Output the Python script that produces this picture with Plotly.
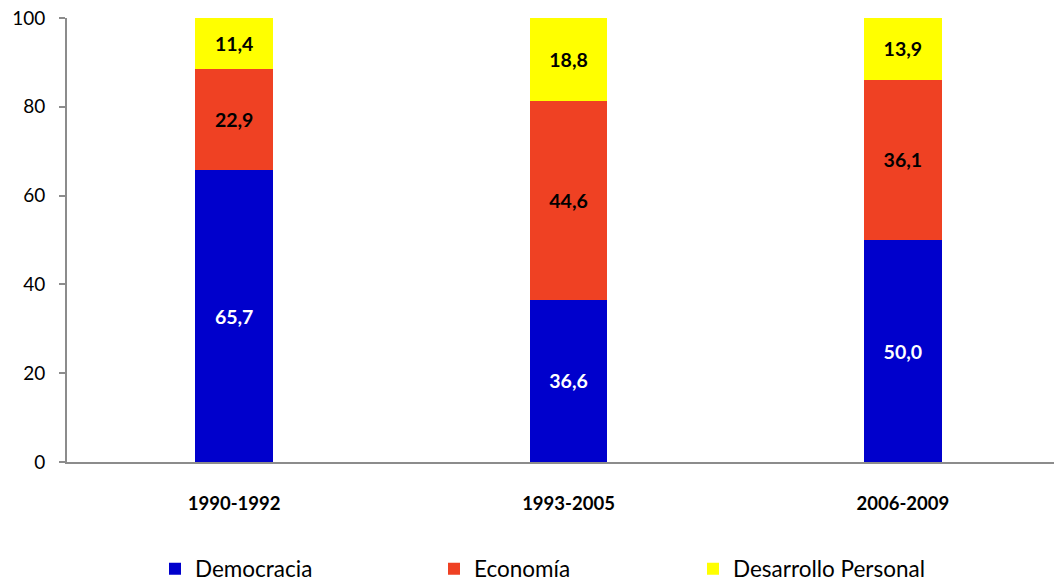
import plotly.graph_objects as go

categories = ["1990-1992", "1993-2005", "2006-2009"]
democracia = [65.7, 36.6, 50.0]
economia = [22.9, 44.6, 36.1]
desarrollo = [11.4, 18.8, 13.9]
y_ticks = [0, 20, 40, 60, 80, 100]

def fmt(vals):
    return [f"{v:.1f}".replace(".", ",") for v in vals]

FONT = "Lato, 'Open Sans', sans-serif"
series = [
    ("Democracia", democracia, "#0000CC", "white", "legend"),
    ("Economía", economia, "#EF4123", "black", "legend2"),
    ("Desarrollo Personal", desarrollo, "#FFFF00", "black", "legend3"),
]

fig = go.Figure()
for name, vals, color, tcolor, lg in series:
    fig.add_trace(go.Bar(
        x=categories, y=vals, name=name, legend=lg,
        marker=dict(color=color, line=dict(width=0)),
        text=fmt(vals), textposition="inside", insidetextanchor="middle",
        textangle=0, constraintext="none",
        textfont=dict(family=FONT, size=19.5, color=tcolor, weight="bold"),
        width=0.233, hoverinfo="skip",
    ))

# page body has an 8px margin, so the figure is offset by (8, 8)
L, PW = 59, 995
def lx(px):
    return (px - 67) / PW

legend_common = dict(orientation="h", xanchor="left", y=-0.241, yanchor="middle",
                     font=dict(size=22.5, family=FONT, color="black"), itemclick=False,
                     bgcolor="rgba(0,0,0,0)")

fig.update_layout(
    barmode="stack",
    width=1054, height=577,
    margin=dict(l=L, r=0, t=10, b=123, autoexpand=False),
    paper_bgcolor="white", plot_bgcolor="white",
    font=dict(family=FONT, color="black"),
    showlegend=True,
    legend=dict(x=lx(155), **legend_common),
    legend2=dict(x=lx(434), **legend_common),
    legend3=dict(x=lx(693), **legend_common),
    xaxis=dict(range=[-0.5, 2.476], showline=True, linecolor="#8c8c8c", linewidth=2,
               ticks="", tickfont=dict(size=18.5, weight="bold"), ticklabelstandoff=24,
               showgrid=False, zeroline=False, automargin=False),
    yaxis=dict(range=[0, 100], tickvals=y_ticks, showline=True, linecolor="#8c8c8c",
               linewidth=2, ticks="outside", ticklen=6, tickcolor="#8c8c8c",
               tickwidth=2, tickfont=dict(size=19), ticklabelstandoff=10,
               ticklabeloverflow="allow",
               showgrid=False, zeroline=False, automargin=False),
)

fig.write_html("out.html")
